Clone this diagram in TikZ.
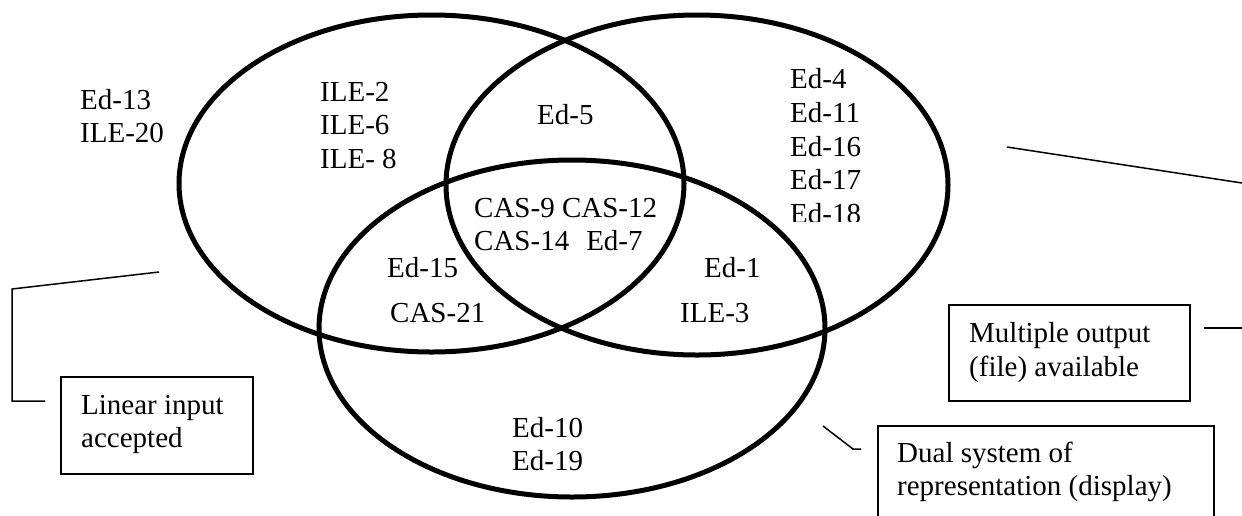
\documentclass[tikz,border=0pt]{standalone}
\usepackage{fontspec}
\setmainfont{Liberation Serif}
\usetikzlibrary{shapes.geometric}
\begin{document}
\begin{tikzpicture}[x=1pt,y=-1pt,
  venn/.style={draw, ellipse, line width=5pt, inner sep=0pt, outer sep=0pt},
  lbl/.style={inner sep=0pt, anchor=base west, font=\fontsize{29}{33.5}\selectfont},
  callbox/.style={draw, line width=1.5pt, rectangle, inner sep=0pt, anchor=north west},
  callline/.style={line width=1.5pt}]
\useasboundingbox (0,0) rectangle (1242,515);
\clip (0,0) rectangle (1242,515);
% Venn ellipses
\node[venn, minimum width=505pt, minimum height=337pt] (L) at (431.5,183.5) {};
\node[venn, minimum width=502pt, minimum height=340pt] (R) at (697,185) {};
\node[venn, minimum width=506pt, minimum height=337pt] (B) at (572,328.5) {};
% labels
\node[lbl] (t13) at (80,109) {Ed-13};
\node[lbl] (t20) at (80,142) {ILE-20};
\node[lbl] (t2) at (320,101) {ILE-2};
\node[lbl] (t6) at (320,134) {ILE-6};
\node[lbl] (t8) at (320,168) {ILE- 8};
\node[lbl] (t5) at (537,124) {Ed-5};
\node[lbl] (t9) at (474,217) {CAS-9 CAS-12};
\node[lbl] (t14) at (474,250) {CAS-14\hspace{17pt}Ed-7};
\node[lbl] (t15) at (387,277) {Ed-15};
\node[lbl] (t21) at (390,322) {CAS-21};
\node[lbl] (t1) at (704,277) {Ed-1};
\node[lbl] (t3) at (680,322) {ILE-3};
\node[lbl] (t10) at (512,437) {Ed-10};
\node[lbl] (t19) at (512,470) {Ed-19};
\node[lbl] (t4) at (790,88) {Ed-4};
\node[lbl] (t11) at (790,122) {Ed-11};
\node[lbl] (t16) at (790,156) {Ed-16};
\node[lbl] (t17) at (790,189) {Ed-17};
\begin{scope}
\clip (780,195) rectangle (880,221);
\node[lbl] (t18) at (790,223) {Ed-18};
\end{scope}
% callout boxes
\node[callbox, minimum width=192pt, minimum height=97pt] (linbox) at (60,376) {};
\node[lbl] (lin1) at (81,414) {Linear input};
\node[lbl] (lin2) at (81,447) {accepted};
\node[callbox, minimum width=241pt, minimum height=96pt] (mulbox) at (948,304) {};
\node[lbl] (mul1) at (969,342) {Multiple output};
\node[lbl] (mul2) at (969,376) {(file) available};
\node[callbox, minimum width=336pt, minimum height=130pt] (dualbox) at (877,425) {};
\node[lbl] (dual1) at (897,462) {Dual system of};
\node[lbl] (dual2) at (897,495) {representation (display)};
% callout lines
\coordinate (la) at (159,272);
\coordinate (lb) at (12,289);
\coordinate (lc) at (12,401);
\coordinate (ld) at (45,401);
\draw[callline] (la) -- (lb) -- (lc) -- (ld);
\coordinate (ma) at (1204,328);
\coordinate (mb) at (1242,328);
\draw[callline] (ma) -- (mb);
\coordinate (mc) at (1007,147);
\coordinate (md) at (1242,183);
\draw[callline] (mc) -- (md);
\coordinate (da) at (823,426);
\coordinate (db) at (853,449);
\coordinate (dc) at (861,449);
\draw[callline] (da) -- (db) -- (dc);
\end{tikzpicture}
\end{document}
